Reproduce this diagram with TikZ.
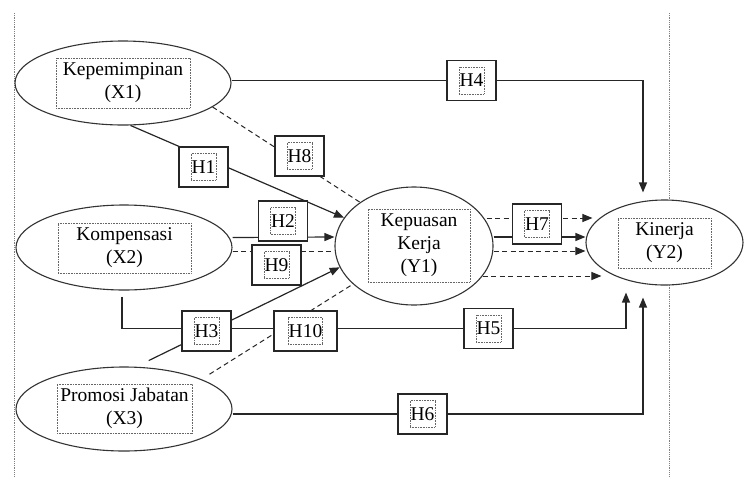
\documentclass[tikz,border=0pt]{standalone}
\usepackage{fontspec}
\setmainfont{Liberation Serif}
\usetikzlibrary{arrows.meta,shapes.geometric}
\pgfdeclarelayer{bg}
\pgfsetlayers{bg,main}
\begin{document}
\begin{tikzpicture}[x=1pt,y=-1pt,
  lbl/.style={font=\fontsize{19.5}{23}\selectfont, align=center, text=black},
  var/.style={ellipse, draw=black!80, line width=1.1pt, fill=white, inner sep=0pt},
  inbox/.style={lbl, draw=black!60, dash pattern=on 0.7pt off 0.9pt, line width=0.6pt, inner sep=0pt},
  hbox/.style={draw=black!85, line width=1.2pt, fill=white, minimum width=49pt, minimum height=40pt, inner sep=0pt},
  hin/.style={inbox, minimum height=27pt, inner xsep=0.5pt},
  conn/.style={draw=black!85, line width=1.2pt},
  arr/.style={conn, -{Triangle[length=10pt,width=8pt]}},
  dconn/.style={conn, line width=1pt, dash pattern=on 5pt off 3.5pt},
  darr/.style={dconn, -{Triangle[length=10pt,width=8pt]}},
  guide/.style={draw=black!50, line width=0.8pt, dash pattern=on 0.8pt off 1pt}
]
\useasboundingbox (0,0) rectangle (753,477);

% variables
\node[var, minimum width=216pt, minimum height=84pt] (x1) at (123,83) {};
\node[inbox, minimum width=134pt, minimum height=50pt] (x1t) at (123,83) {Kepemimpinan\\(X1)};
\node[var, minimum width=216pt, minimum height=85pt] (x2) at (124,247.5) {};
\node[inbox, minimum width=133pt, minimum height=50pt] (x2t) at (124.5,248) {Kompensasi\\(X2)};
\node[var, minimum width=216pt, minimum height=84pt] (x3) at (124,409) {};
\node[inbox, minimum width=135pt, minimum height=49pt] (x3t) at (124.5,408.5) {Promosi Jabatan\\(X3)};
\node[var, minimum width=158pt, minimum height=118pt] (y1) at (414,246) {};
\node[inbox, minimum width=102pt, minimum height=73pt] (y1t) at (419,245.5) {Kepuasan\\Kerja\\(Y1)};
\node[var, minimum width=157pt, minimum height=85pt] (y2) at (664.5,242.5) {};
\node[inbox, minimum width=93pt, minimum height=50pt] (y2t) at (664.5,243) {Kinerja\\(Y2)};

% hypothesis boxes
\node[hbox] (h1) at (203.5,167) {};   \node[hin] (h1t) at (h1) {H1};
\node[hbox] (h2) at (283,221) {};     \node[hin] (h2t) at (h2) {H2};
\node[hbox] (h3) at (206.5,331) {};   \node[hin] (h3t) at (h3) {H3};
\node[hbox] (h4) at (471.5,80.5) {};  \node[hin] (h4t) at (h4) {H4};
\node[hbox] (h5) at (488.5,328.5) {}; \node[hin] (h5t) at (h5) {H5};
\node[hbox] (h6) at (422.5,414) {};   \node[hin] (h6t) at (h6) {H6};
\node[hbox] (h7) at (537,224) {};     \node[hin] (h7t) at (h7) {H7};
\node[hbox] (h8) at (299.5,156) {};   \node[hin] (h8t) at (h8) {H8};
\node[hbox] (h9) at (276.5,265) {};   \node[hin] (h9t) at (h9) {H9};
\node[hbox, minimum width=63pt] (h10) at (305.5,331) {}; \node[hin] (h10t) at (h10) {H10};

\begin{pgfonlayer}{bg}
  \draw[guide] (14,13) -- (14,477);
  \draw[guide] (669,13) -- (669,477);
  % H4
  \draw[conn] (x1.east |- h4) -- (h4.west);
  \draw[arr] (h4.east) -| ([xshift=-21.5pt,yshift=7pt]y2.north);
  % H1, H8
  \draw[arr] (x1.-80.5) -- (y1.158.7);
  \draw[dconn] (x1.-15.5) -- (y1.141.1);
  % H2, H9
  \draw[arr] ([yshift=10pt]x2.east) -- ([yshift=9pt]y1.west);
  \draw[dconn] ([yshift=-3.5pt]x2.east) -- ([yshift=-5pt]y1.west);
  % H5
  \draw[arr] ([xshift=-2pt,yshift=-6pt]x2.south) |- (h5.center) -| ([xshift=-38.5pt,yshift=-7pt]y2.south);
  % H3, H10
  \draw[arr, shorten <=14pt] (x3.74) -- (y1.196.8);
  \draw[dconn, shorten <=9.4pt] (x3.21.5) -- (y1.212.8);
  % H6
  \draw[arr] (x3.east |- h6) -- (h6.center) -| ([xshift=-21.5pt,yshift=-12pt]y2.south);
  % H7 and mediated paths
  \draw[arr] ([yshift=9pt]y1.east) -- ([yshift=5.5pt]y2.west);
  \draw[darr] ([xshift=-7pt,yshift=28pt]y1.east) -- ([xshift=7pt,yshift=24.5pt]y2.west);
  \draw[darr] ([yshift=-5pt]y1.east) -- ([yshift=-8.5pt]y2.west);
  \draw[darr] ([xshift=-11pt,yshift=-30pt]y1.east) -- ([xshift=16pt,yshift=-33.5pt]y2.west);
\end{pgfonlayer}
\end{tikzpicture}
\end{document}
